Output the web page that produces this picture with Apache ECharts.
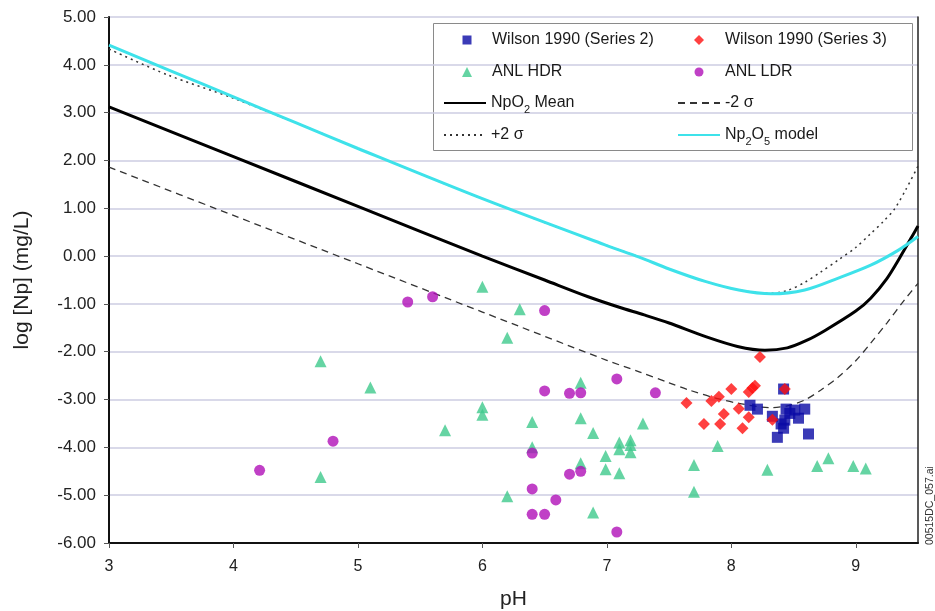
<!DOCTYPE html>
<html><head><meta charset="utf-8">
<script src="https://cdn.jsdelivr.net/npm/echarts@6/dist/echarts.min.js"></script>
<style>html,body{margin:0;padding:0;background:#fff}#c{width:935px;height:611px}</style>
</head><body><div id="c"></div>
<script>
// ---- data ----
const xTicks = [3, 4, 5, 6, 7, 8, 9];
const yTicks = [5, 4, 3, 2, 1, 0, -1, -2, -3, -4, -5, -6];

const wilson2 = [[8.15,-3.12],[8.21,-3.20],[8.33,-3.35],[8.42,-2.78],[8.44,-3.20],[8.51,-3.22],[8.59,-3.20],
  [8.43,-3.43],[8.54,-3.39],[8.42,-3.60],[8.37,-3.79],[8.62,-3.72],[8.47,-3.29],[8.40,-3.51]];

const wilson3 = [[7.64,-3.07],[7.78,-3.51],[7.84,-3.03],[7.90,-2.94],[7.91,-3.51],[7.94,-3.30],[8.00,-2.78],
  [8.06,-3.19],[8.09,-3.60],[8.14,-3.37],[8.14,-2.84],[8.17,-2.76],[8.19,-2.71],[8.23,-2.11],[8.33,-3.42],[8.43,-2.78]];

const anlHDR = [[4.70,-2.20],[5.10,-2.75],[4.70,-4.62],[5.70,-3.64],[6.00,-0.64],[6.30,-1.11],[6.20,-1.71],
  [6.79,-2.65],[6.00,-3.16],[6.00,-3.32],[6.40,-3.47],[6.79,-3.39],[6.89,-3.70],[6.40,-4.00],[6.99,-4.18],
  [6.99,-4.46],[6.79,-4.33],[7.10,-4.54],[6.20,-5.02],[6.89,-5.36],[7.29,-3.50],[7.10,-3.90],[7.10,-4.04],
  [7.19,-3.85],[7.19,-3.95],[7.19,-4.10],[7.89,-3.97],[7.70,-4.37],[7.70,-4.93],[8.29,-4.47],[8.69,-4.39],
  [8.78,-4.23],[8.98,-4.39],[9.08,-4.44]];

const anlLDR = [[4.21,-4.48],[4.80,-3.87],[5.40,-0.96],[5.60,-0.85],[6.50,-1.14],[6.50,-2.82],[6.70,-2.87],
  [6.79,-2.86],[7.08,-2.57],[7.39,-2.86],[6.40,-4.12],[6.70,-4.56],[6.79,-4.50],[6.40,-4.87],[6.59,-5.10],
  [6.40,-5.40],[6.50,-5.40],[7.08,-5.77]];

const npo2Mean = [[3,3.12],[4,2.08],[5,1.04],[6,0.0],[6.5,-0.5],[6.85,-0.85],[7.1,-1.07],[7.3,-1.23],[7.5,-1.40],[7.8,-1.69],
  [8.05,-1.89],[8.27,-1.97],[8.45,-1.92],[8.6,-1.77],[8.75,-1.56],[9.0,-1.15],[9.12,-0.88],[9.25,-0.47],
  [9.35,-0.05],[9.5,0.63]];

const minus2s = [[3,1.86],[4,0.85],[5,-0.16],[6,-1.17],[7,-2.18],[7.26,-2.42],[7.5,-2.65],[7.66,-2.80],
  [7.86,-2.96],[8.06,-3.08],[8.32,-3.17],[8.45,-3.13],[8.59,-3.01],[8.72,-2.80],[8.86,-2.53],[9.0,-2.19],
  [9.12,-1.82],[9.25,-1.40],[9.39,-0.92],[9.5,-0.57]];

const plus2s = [[3,4.33],[3.47,3.79],[4,3.30],[4.5,2.79],[5,2.25],[6,1.2],[7,0.22],[7.26,-0.02],[7.5,-0.27],
  [7.79,-0.53],[8.06,-0.71],[8.3,-0.78],[8.45,-0.72],[8.59,-0.55],[8.72,-0.33],[8.86,-0.08],[9.0,0.18],
  [9.12,0.47],[9.22,0.72],[9.31,0.98],[9.4,1.38],[9.5,1.88]];

const np2o5 = [[3,4.41],[3.5,3.87],[4,3.33],[4.5,2.79],[5,2.25],[6,1.2],[7,0.22],[7.26,-0.02],[7.5,-0.27],
  [7.79,-0.53],[8.06,-0.71],[8.32,-0.79],[8.59,-0.71],[8.86,-0.46],[9.12,-0.19],[9.34,0.12],[9.5,0.41]];

// ---- chart ----
const FONT = 'Liberation Sans, Arial, sans-serif';
const chart = echarts.init(document.getElementById('c'), null, {renderer: 'canvas'});

const legendTexts = {
  'NpO2 Mean': '{n|NpO}{s|2}{n| Mean}',
  'Np2O5 model': '{n|Np}{s|2}{n|O}{s|5}{n| model}'
};
const rich = {
  n: {fontSize: 16, lineHeight: 24, fontFamily: FONT, color: '#1a1a1a'},
  s: {fontSize: 11, lineHeight: 24, verticalAlign: 'bottom', fontFamily: FONT, color: '#1a1a1a'}
};
function lineLegend(name, left, rowCenter) {
  return {
    data: [name], left: left, top: rowCenter - 12, padding: 0,
    itemWidth: 42, itemHeight: 9, selectedMode: false,
    textStyle: {fontSize: 16, lineHeight: 24, fontFamily: FONT, color: '#1a1a1a', rich: rich},
    formatter: n => legendTexts[n] || n
  };
}
function markLegend(name, symCenter, textStart, rowCenter, size) {
  return {
    data: [name], left: symCenter - size / 2, top: rowCenter - 12, padding: 0,
    itemWidth: size, itemHeight: size, selectedMode: false,
    textStyle: {fontSize: 16, lineHeight: 24, fontFamily: FONT, color: '#1a1a1a',
      padding: [0, 0, 0, textStart - (symCenter + size / 2) - 5]}
  };
}
const rows = [40, 72, 103, 135];
const legends = [
  markLegend('Wilson 1990 (Series 2)', 467, 492, rows[0], 9),
  markLegend('Wilson 1990 (Series 3)', 699, 725, rows[0], 10),
  markLegend('ANL HDR', 467, 492, rows[1], 10),
  markLegend('ANL LDR', 699, 725, rows[1], 9),
  lineLegend('NpO2 Mean', 443, rows[2]),
  lineLegend('-2 σ', 677, rows[2]),
  lineLegend('+2 σ', 443, rows[3]),
  lineLegend('Np2O5 model', 677, rows[3])
];

const noDot = {color: 'rgba(0,0,0,0)'};

const option = {
  backgroundColor: '#fff',
  animation: false,
  grid: {left: 109, right: 17, top: 17, bottom: 68, outerBoundsMode: 'none', containLabel: false},
  legend: legends,
  graphic: [
    {type: 'rect', left: 433, top: 23, z: -1, shape: {width: 479, height: 127},
     style: {fill: '#fff', stroke: '#8a8a8a', lineWidth: 1}},
    {type: 'text', x: 930, y: 545, rotation: Math.PI / 2,
     style: {text: '00515DC_057.ai', fontSize: 10.5, fontFamily: FONT, fill: '#333', textAlign: 'left', textVerticalAlign: 'middle'}}
  ],
  xAxis: [{
    type: 'value', min: 3, max: 9.5, interval: 1,
    name: 'pH', nameLocation: 'middle', nameGap: 46,
    nameTextStyle: {fontSize: 21, fontFamily: FONT, color: '#222'},
    axisLine: {show: true, onZero: false, lineStyle: {color: '#111', width: 2}},
    axisTick: {show: true, length: 5, lineStyle: {color: '#555'}},
    axisLabel: {fontSize: 16, fontFamily: FONT, color: '#222', margin: 16, showMaxLabel: false,
      formatter: v => xTicks.includes(v) ? String(v) : ''},
    splitLine: {show: false}
  }],
  yAxis: [{
    type: 'value', min: -6, max: 5, interval: 1,
    name: 'log [Np] (mg/L)', nameLocation: 'middle', nameGap: 76,
    nameTextStyle: {fontSize: 21, fontFamily: FONT, color: '#222'},
    axisLine: {show: true, onZero: false, lineStyle: {color: '#111', width: 2}},
    axisTick: {show: true, length: 5, lineStyle: {color: '#555'}},
    axisLabel: {fontSize: 17, fontFamily: FONT, color: '#222', margin: 13,
      formatter: v => yTicks.includes(v) ? v.toFixed(2) : ''},
    splitLine: {show: true, lineStyle: {color: '#cdcde2', width: 1.5}}
  }, {
    type: 'value', min: -6, max: 5, interval: 1, position: 'right',
    axisLine: {show: true, onZero: false, lineStyle: {color: '#222', width: 1.5}},
    axisTick: {show: false}, axisLabel: {show: false}, splitLine: {show: false}
  }],
  series: [
    {name: '+2 σ', type: 'line', data: plus2s, symbol: 'none', smooth: 0.3, z: 2, itemStyle: noDot,
     lineStyle: {color: '#333', width: 1.5, type: [2, 4]}},
    {name: '-2 σ', type: 'line', data: minus2s, symbol: 'none', smooth: 0.3, z: 2, itemStyle: noDot,
     lineStyle: {color: '#333', width: 1.3, type: [7, 5]}},
    {name: 'NpO2 Mean', type: 'line', data: npo2Mean, symbol: 'none', smooth: 0.3, z: 3, itemStyle: noDot,
     lineStyle: {color: '#000', width: 3}},
    {name: 'Np2O5 model', type: 'line', data: np2o5, symbol: 'none', smooth: 0.3, z: 3, itemStyle: noDot,
     lineStyle: {color: '#3ee2ea', width: 3}},
    {name: 'Wilson 1990 (Series 2)', type: 'scatter', data: wilson2, symbol: 'rect', symbolSize: 11, z: 5,
     itemStyle: {color: '#0a0aa5'}},
    {name: 'Wilson 1990 (Series 3)', type: 'scatter', data: wilson3, symbol: 'diamond', symbolSize: 12, z: 6,
     itemStyle: {color: '#ff1010'}},
    {name: 'ANL HDR', type: 'scatter', data: anlHDR, symbol: 'triangle', symbolSize: 12, z: 5,
     itemStyle: {color: '#3ec98c'}},
    {name: 'ANL LDR', type: 'scatter', data: anlLDR, symbol: 'circle', symbolSize: 11, z: 5,
     itemStyle: {color: '#b010b8'}}
  ]
};
chart.setOption(option);
</script>
</body></html>
